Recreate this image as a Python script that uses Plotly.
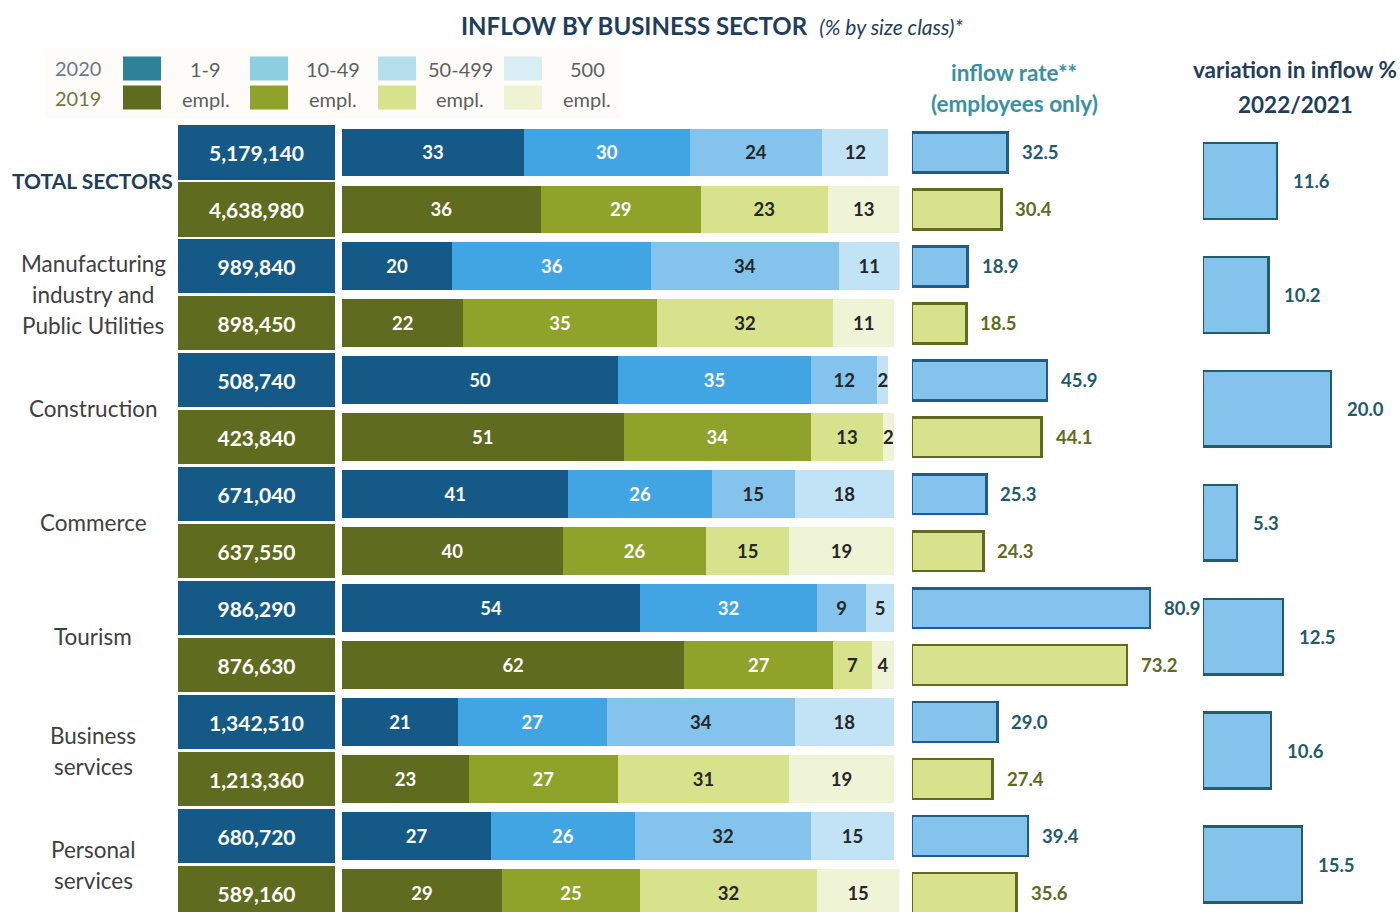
import plotly.graph_objects as go

# ---------------- data ----------------
sectors = ["TOTAL SECTORS", "Manufacturing<br>industry and<br>Public Utilities", "Construction",
           "Commerce", "Tourism", "Business<br>services", "Personal<br>services"]
total_2020 = [5179140, 989840, 508740, 671040, 986290, 1342510, 680720]
total_2019 = [4638980, 898450, 423840, 637550, 876630, 1213360, 589160]
size_classes = ["1-9", "10-49", "50-499", "500"]
share_2020_1_9 = [33, 20, 50, 41, 54, 21, 27]
share_2020_10_49 = [30, 36, 35, 26, 32, 27, 26]
share_2020_50_499 = [24, 34, 12, 15, 9, 34, 32]
share_2020_500 = [12, 11, 2, 18, 5, 18, 15]
share_2019_1_9 = [36, 22, 51, 40, 62, 23, 29]
share_2019_10_49 = [29, 35, 34, 26, 27, 27, 25]
share_2019_50_499 = [23, 32, 13, 15, 7, 31, 32]
share_2019_500 = [13, 11, 2, 19, 4, 19, 15]
inflow_2020 = [32.5, 18.9, 45.9, 25.3, 80.9, 29.0, 39.4]
inflow_2019 = [30.4, 18.5, 44.1, 24.3, 73.2, 27.4, 35.6]
variation = [11.6, 10.2, 20.0, 5.3, 12.5, 10.6, 15.5]

# ---------------- styling ----------------
W, H = 1400, 912
TOP = 123.5
PH = H - TOP
FONT = "Lato"
NAVY = "#1f3d5c"
BLUE = ["#155a87", "#42a5e3", "#84c3ec", "#c2e2f5"]
GREEN = ["#5f6b1e", "#8fa32a", "#d6e28c", "#eff4d6"]
TXT_COL = ["white", "white", "#262626", "#262626"]


def px(x):
    return x / W


def py(y):
    return (H - y) / PH


def interleave(a, b):
    out = []
    for u, v in zip(a, b):
        out += [u, v]
    return out


def label(x, y, text, size, color, xref="paper", yref="paper", **kw):
    d = dict(x=x, y=y, xref=xref, yref=yref, text=text, showarrow=False,
             xanchor="center", yanchor="middle", font=dict(family=FONT, size=size, color=color))
    d.update(kw)
    return d


n = len(sectors)
rows = list(range(2 * n))
pair_centres = [2 * i + 0.5 for i in range(n)]
shares_2020 = [share_2020_1_9, share_2020_10_49, share_2020_50_499, share_2020_500]
shares_2019 = [share_2019_1_9, share_2019_10_49, share_2019_50_499, share_2019_500]

fig = go.Figure()

# totals column
totals = interleave(total_2020, total_2019)
fig.add_trace(go.Bar(
    orientation="h", y=rows, x=[1] * len(rows), xaxis="x", yaxis="y", width=0.95,
    marker=dict(color=interleave([BLUE[0]] * n, [GREEN[0]] * n), line_width=0),
    text=[f"{v:,}" for v in totals], textposition="inside", insidetextanchor="middle",
    textfont=dict(family=FONT, size=21, color="white", weight="bold"),
    constraintext="none", hoverinfo="skip", showlegend=False))

# stacked shares
for k in range(4):
    vals = interleave(shares_2020[k], shares_2019[k])
    fig.add_trace(go.Bar(
        orientation="h", y=rows, x=vals, xaxis="x2", yaxis="y", width=0.84,
        name=size_classes[k],
        marker=dict(color=interleave([BLUE[k]] * n, [GREEN[k]] * n), line_width=0),
        text=[str(v) for v in vals], textposition="inside", insidetextanchor="middle",
        textfont=dict(family=FONT, size=18.5, color=TXT_COL[k], weight="bold"),
        constraintext="none", cliponaxis=False, hoverinfo="skip", showlegend=False))

# inflow rate
inflow = interleave(inflow_2020, inflow_2019)
fig.add_trace(go.Bar(
    orientation="h", y=rows, x=inflow, xaxis="x3", yaxis="y", width=0.70,
    marker=dict(color=interleave(["#84c3ec"] * n, ["#d6e28c"] * n),
                line=dict(width=2.5, color=interleave(["#1f5c8a"] * n, ["#5f6b1e"] * n))),
    hoverinfo="skip", showlegend=False))

# variation
fig.add_trace(go.Bar(
    orientation="h", y=pair_centres, x=variation, xaxis="x4", yaxis="y", width=1.33,
    marker=dict(color="#84c3ec", line=dict(width=2.5, color="#245c6c")),
    hoverinfo="skip", showlegend=False))

ann = []
inflow_col = interleave(["#1f5a6e"] * n, ["#5f6b1e"] * n)
for r, v, c in zip(rows, inflow, inflow_col):
    ann.append(label(v, r, f"<b>{v:.1f}</b>", 18.5, c, xref="x3", yref="y", xanchor="left", xshift=12))
for r, v in zip(pair_centres, variation):
    ann.append(label(v, r, f"<b>{v:.1f}</b>", 18.5, "#1f5a6e", xref="x4", yref="y", xanchor="left", xshift=14))

# sector labels (one annotation per line, 31 px line spacing)
for i, (s, r) in enumerate(zip(sectors, pair_centres)):
    lines = s.split("<br>")
    L = len(lines)
    for j, ln in enumerate(lines):
        shift = ((L - 1) / 2 - j) * 31
        if i == 0:
            ann.append(label(px(92), r, f"<b>{ln}</b>", 21, NAVY, yref="y", yshift=shift))
        else:
            ann.append(label(px(93), r, ln, 22.5, "#404040", yref="y", yshift=shift))

# title and panel headers
ann.append(label(px(712), py(25),
                 "<b>INFLOW BY BUSINESS SECTOR</b>  <i><span style='font-size:21px'>(% by size class)*</span></i>",
                 24, NAVY))
ann.append(label(px(1014), py(72), "<b>inflow rate**</b>", 22.5, "#3a90a3"))
ann.append(label(px(1014), py(103), "<b>(employees only)</b>", 22.5, "#3a90a3"))
ann.append(label(px(1295), py(69), "<b>variation in inflow %</b>", 22.5, NAVY))
ann.append(label(px(1295), py(104), "<b>2022/2021</b>", 22.5, NAVY))

# legend
shapes = [dict(type="rect", xref="paper", yref="paper", x0=px(45), x1=px(620), y0=py(118), y1=py(48),
               fillcolor="#fdfcf9", line_width=0, layer="below")]
leg2020 = ["#2e8299", "#8ccfe0", "#b5dfea", "#d8edf4"]
leg2019 = ["#5f6b1e", "#8fa32a", "#d6e28c", "#eef3d3"]
leg_x = [123, 250, 378, 504]
leg_lab_x = [206, 333, 460, 587]
for k in range(4):
    shapes.append(dict(type="rect", xref="paper", yref="paper", x0=px(leg_x[k]), x1=px(leg_x[k] + 38),
                       y0=py(80), y1=py(56), fillcolor=leg2020[k], line_width=0))
    shapes.append(dict(type="rect", xref="paper", yref="paper", x0=px(leg_x[k]), x1=px(leg_x[k] + 38),
                       y0=py(109), y1=py(85), fillcolor=leg2019[k], line_width=0))
    ann.append(label(px(leg_lab_x[k]), py(68), size_classes[k], 20, "#5f5f5f"))
    ann.append(label(px(leg_lab_x[k]), py(98), "empl.", 20, "#5f5f5f"))
ann.append(label(px(78), py(67), "2020", 20, "#6b7a8a"))
ann.append(label(px(78), py(97), "2019", 20, "#6b7a3a"))

hidden = dict(visible=False, showgrid=False, zeroline=False, fixedrange=True)
fig.update_layout(
    width=W, height=H, margin=dict(l=0, r=0, t=TOP, b=0),
    paper_bgcolor="white", plot_bgcolor="white",
    barmode="stack", showlegend=False,
    xaxis=dict(domain=[px(178), px(335)], range=[0, 1], anchor="y", **hidden),
    xaxis2=dict(domain=[px(342), px(342 + 552 * 1.01)], range=[0, 101], anchor="y", **hidden),
    xaxis3=dict(domain=[px(912), px(1190)], range=[0, 278 / 2.94], anchor="y", **hidden),
    xaxis4=dict(domain=[px(1203), 1.0], range=[0, 197 / 6.4], anchor="y", **hidden),
    yaxis=dict(range=[2 * n - 1 + 19 / 57, -0.5], **hidden),
    annotations=ann, shapes=shapes,
    font=dict(family=FONT),
)

fig.write_html("out.html", config={"displayModeBar": False},
               post_script="document.body.style.margin='0';document.body.style.overflow='hidden';")
